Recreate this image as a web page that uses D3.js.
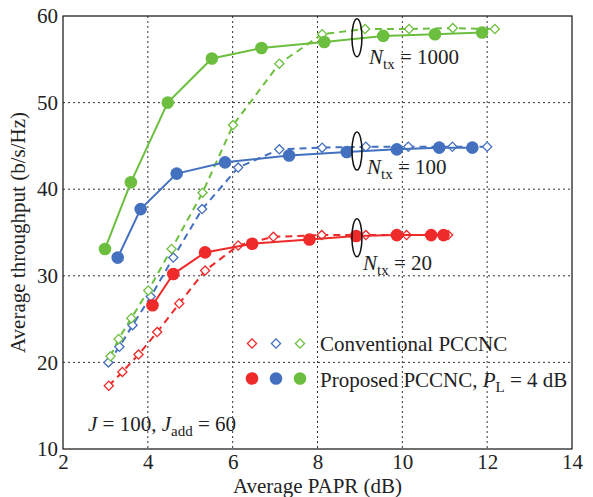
<!DOCTYPE html>
<html><head><meta charset="utf-8">
<script src="https://cdn.jsdelivr.net/npm/d3@7"></script>
<style>
html,body{margin:0;padding:0;background:#fff;}
svg text{font-family:"Liberation Serif",Tinos,"Times New Roman",Times,"Nimbus Roman","DejaVu Serif",serif !important;fill:#222;}
</style></head>
<body><svg id="chart" width="593" height="497"></svg>
<script>
const xTicks = [2,4,6,8,10,12,14];
const yTicks = [10,20,30,40,50,60];

const convRedX   = [3.08,3.40,3.78,4.22,4.74,5.35,6.13,6.96,8.10,9.14,10.10,11.08];
const convRedY   = [17.3,18.9,20.9,23.5,26.8,30.6,33.5,34.5,34.7,34.7,34.7,34.7];
const convBlueX  = [3.07,3.33,3.64,4.07,4.60,5.28,6.13,7.10,8.11,9.14,10.14,11.18,12.0];
const convBlueY  = [20.0,21.8,24.3,27.6,32.1,37.7,42.5,44.6,44.8,44.9,44.9,44.9,44.9];
const convGreenX = [3.12,3.31,3.61,4.01,4.56,5.29,6.01,7.10,8.11,9.12,10.16,11.19,12.18];
const convGreenY = [20.7,22.7,25.1,28.3,33.1,39.6,47.4,54.5,57.9,58.5,58.5,58.6,58.5];

const propRedX   = [4.11,4.60,5.35,6.46,7.81,8.91,9.87,10.68,10.97];
const propRedY   = [26.6,30.2,32.7,33.7,34.2,34.6,34.7,34.7,34.7];
const propBlueX  = [3.29,3.83,4.68,5.82,7.33,8.69,9.87,10.87,11.65];
const propBlueY  = [32.1,37.7,41.8,43.1,43.9,44.3,44.6,44.8,44.8];
const propGreenX = [2.99,3.60,4.47,5.51,6.68,8.16,9.55,10.77,11.88];
const propGreenY = [33.1,40.8,50.0,55.1,56.3,57.0,57.7,57.9,58.1];

const groupLabels = ["1000","100","20"];
const groupEllipseX = 8.93;
const groupEllipseY = [57.5,44.4,34.4];

const colors = {red:"#ee2a2a", blue:"#4470c0", green:"#6cbf3e"};
const FONT = '"Liberation Serif", Tinos, "Times New Roman", Times, "DejaVu Serif", serif';

const svg = d3.select("#chart").attr("font-family",FONT);
const L=63, R=572, T=16, B=449;
const x = d3.scaleLinear().domain([2,14]).range([L,R]);
const y = d3.scaleLinear().domain([10,60]).range([B,T]);

// grid
const g = svg.append("g");
g.selectAll(".gx").data(xTicks.slice(1,-1)).enter().append("line")
  .attr("x1",d=>x(d)).attr("x2",d=>x(d)).attr("y1",T).attr("y2",B)
  .attr("stroke","#333").attr("stroke-width",1).attr("stroke-dasharray","2,3");
g.selectAll(".gy").data(yTicks.slice(1,-1)).enter().append("line")
  .attr("y1",d=>y(d)).attr("y2",d=>y(d)).attr("x1",L).attr("x2",R)
  .attr("stroke","#333").attr("stroke-width",1).attr("stroke-dasharray","2,3");

// axes
const xAxis = d3.axisBottom(x).tickValues(xTicks).tickSize(0).tickPadding(5);
const yAxis = d3.axisLeft(y).tickValues(yTicks).tickSize(0).tickPadding(5);
const gx = svg.append("g").attr("transform",`translate(0,${B})`).call(xAxis);
const gy = svg.append("g").attr("transform",`translate(${L},0)`).call(yAxis);
[gx,gy].forEach(a=>{a.select(".domain").remove();
  a.attr("font-family",FONT).attr("font-size",21);
  a.selectAll("text").attr("fill","#222");});
svg.append("rect").attr("x",L).attr("y",T).attr("width",R-L).attr("height",B-T)
  .attr("fill","none").attr("stroke","#111").attr("stroke-width",1.2);

const line = d3.line().x(d=>x(d[0])).y(d=>y(d[1]));
const zip = (a,b)=>a.map((v,i)=>[v,b[i]]);

function conv(xs,ys,c){
  const pts = zip(xs,ys);
  svg.append("path").attr("d",line(pts)).attr("fill","none").attr("stroke",c)
    .attr("stroke-width",2).attr("stroke-dasharray","7,5");
  svg.selectAll(null).data(pts).enter().append("path")
    .attr("d",d3.symbol().type(d3.symbolSquare).size(42))
    .attr("transform",d=>`translate(${x(d[0])},${y(d[1])}) rotate(45)`)
    .attr("fill","#fff").attr("stroke",c).attr("stroke-width",1.3);
}
function prop(xs,ys,c){
  const pts = zip(xs,ys);
  svg.append("path").attr("d",line(pts)).attr("fill","none").attr("stroke",c).attr("stroke-width",2);
  svg.selectAll(null).data(pts).enter().append("circle")
    .attr("cx",d=>x(d[0])).attr("cy",d=>y(d[1])).attr("r",6.3).attr("fill",c);
}
conv(convRedX,convRedY,colors.red);
conv(convBlueX,convBlueY,colors.blue);
conv(convGreenX,convGreenY,colors.green);
prop(propRedX,propRedY,colors.red);
prop(propBlueX,propBlueY,colors.blue);
prop(propGreenX,propGreenY,colors.green);

// ellipses + labels
const labelX = [369,367,363];
const labelBase = [64,174,270];
groupLabels.forEach((lab,i)=>{
  svg.append("ellipse").attr("cx",x(groupEllipseX)).attr("cy",y(groupEllipseY[i]))
    .attr("rx",5).attr("ry",19).attr("fill","none").attr("stroke","#111").attr("stroke-width",1.5);
  const t = svg.append("text").attr("x",labelX[i]).attr("y",labelBase[i]).attr("font-size",21);
  t.append("tspan").attr("font-style","italic").text("N");
  t.append("tspan").attr("dy",5).attr("font-size",15).text("tx");
  t.append("tspan").attr("dy",-5).text(" = "+lab);
});

// legend
const legCols = [colors.red,colors.blue,colors.green];
legCols.forEach((c,i)=>{
  svg.append("path").attr("d",d3.symbol().type(d3.symbolSquare).size(42))
    .attr("transform",`translate(${252+24*i},343.5) rotate(45)`)
    .attr("fill","#fff").attr("stroke",c).attr("stroke-width",1.3);
  svg.append("circle").attr("cx",252+24*i).attr("cy",378.5).attr("r",6.3).attr("fill",c);
});
svg.append("text").attr("x",320).attr("y",351).attr("font-size",21).text("Conventional PCCNC");
const lt = svg.append("text").attr("x",320).attr("y",387).attr("font-size",21);
lt.append("tspan").text("Proposed PCCNC, ");
lt.append("tspan").attr("font-style","italic").text("P");
lt.append("tspan").attr("dy",5).attr("font-size",15).text("L");
lt.append("tspan").attr("dy",-5).text(" = 4 dB");

const jt = svg.append("text").attr("x",88).attr("y",431).attr("font-size",21);
jt.append("tspan").attr("font-style","italic").text("J");
jt.append("tspan").text(" = 100, ");
jt.append("tspan").attr("font-style","italic").text("J");
jt.append("tspan").attr("dy",5).attr("font-size",15).text("add");
jt.append("tspan").attr("dy",-5).text(" = 60");

// axis labels
svg.append("text").attr("x",(L+R)/2).attr("y",493).attr("text-anchor","middle")
  .attr("font-size",21).text("Average PAPR (dB)");
svg.append("text").attr("transform",`translate(25,${(T+B)/2}) rotate(-90)`).attr("text-anchor","middle")
  .attr("font-size",21).text("Average throughput (b/s/Hz)");
</script></body></html>
